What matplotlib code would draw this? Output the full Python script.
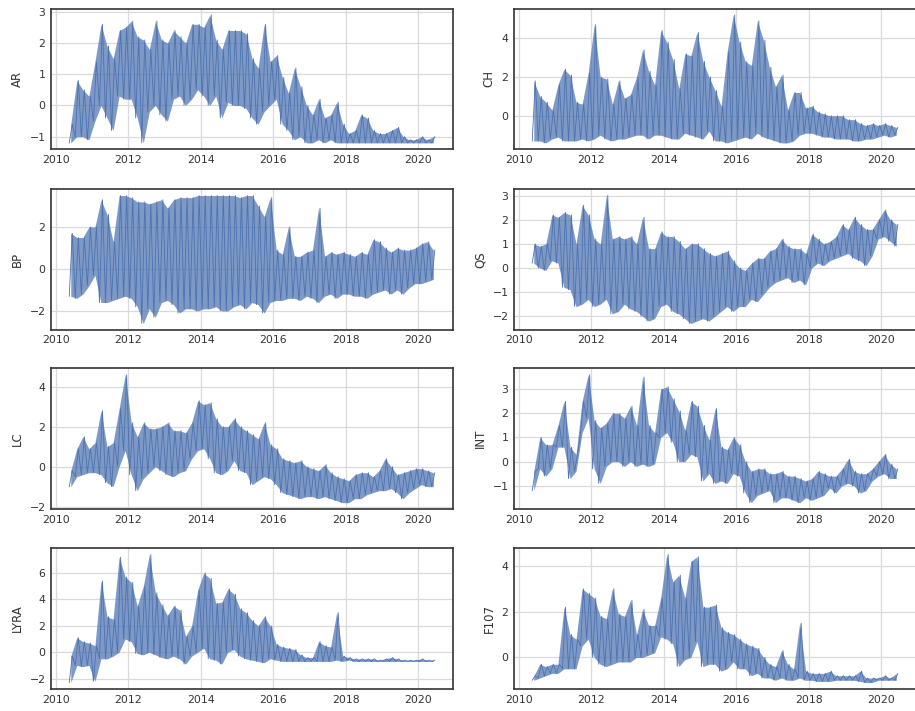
import numpy as np
import matplotlib
matplotlib.use('Agg')
import matplotlib.pyplot as plt
from matplotlib.ticker import MultipleLocator

# two-month bins from May 2010, one row = one year (6 bins), last value = mid 2020
start_year = 2010.37
bin_width = 1 / 6

ar_hi = [-0.6, 0.8, 0.5, 0.3, 1.4, 2.6,
         1.9, 1.5, 2.4, 2.5, 2.7, 2.2,
         2.1, 1.8, 2.7, 2.1, 2.0, 2.4,
         2.2, 2.0, 2.6, 2.6, 2.5, 2.9,
         2.1, 1.8, 2.4, 2.4, 2.4, 2.3,
         1.5, 1.2, 2.6, 1.4, 1.6, 0.9,
         0.4, 1.2, 0.6, 0.0, -0.3, 0.2,
         -0.4, -0.3, 0.1, -0.6, -0.9, -0.8,
         -0.3, -0.4, -0.8, -0.9, -0.9, -0.8,
         -0.7, -1.0, -1.1, -1.1, -1.0, -1.1,
         -1.0]
ar_lo = [-1.2, -1.0, -1.0, -1.1, -0.5, 0.0,
         -0.4, -0.8, 0.3, 0.2, 0.2, -0.4,
         -1.2, -0.2, 0.0, -0.3, -0.5, 0.2,
         0.3, 0.0, 0.2, 0.5, 0.3, 0.0,
         0.3, -0.4, 0.1, 0.0, 0.0, -0.1,
         -0.4, -0.6, -0.2, 0.0, 0.2, -0.6,
         -0.8, -1.1, -1.0, -1.2, -1.2, -1.1,
         -1.2, -1.1, -1.2, -1.2, -1.2, -1.2,
         -1.2, -1.2, -1.2, -1.2, -1.2, -1.2,
         -1.2, -1.2, -1.2, -1.2, -1.2, -1.2,
         -1.2]

ch_hi = [1.8, 1.0, 0.7, 0.3, 1.6, 2.4,
         2.1, 0.7, 0.6, 2.2, 4.7, 2.0,
         1.9, 0.6, 1.8, 0.9, 1.1, 2.0,
         3.4, 2.3, 1.6, 4.4, 3.8, 2.9,
         1.4, 3.2, 3.1, 4.3, 2.8, 2.0,
         1.3, 0.5, 3.3, 5.2, 3.8, 2.8,
         2.6, 4.9, 3.9, 2.5, 1.5, 2.1,
         0.3, 1.2, 1.2, 0.4, 0.5, 0.2,
         0.1, 0.0, 0.0, 0.0, -0.2, -0.2,
         -0.4, -0.5, -0.4, -0.5, -0.4, -0.5,
         -0.6]
ch_lo = [-1.3, -1.3, -1.4, -1.2, -1.1, -1.3,
         -1.3, -1.3, -1.2, -1.3, -1.2, -1.0,
         -1.2, -1.3, -1.2, -1.2, -1.1, -1.0,
         -1.0, -1.2, -1.0, -1.0, -1.1, -1.2,
         -1.2, -0.9, -1.0, -1.1, -1.2, -0.8,
         -1.3, -1.3, -1.4, -1.3, -1.2, -1.1,
         -1.2, -0.9, -1.1, -1.2, -1.3, -1.4,
         -1.4, -1.3, -1.0, -0.9, -0.9, -1.0,
         -1.1, -1.1, -1.2, -1.2, -1.2, -1.3,
         -1.3, -1.2, -1.2, -1.1, -1.0, -1.1,
         -1.0]

bp_hi = [1.7, 1.5, 1.5, 2.0, 2.0, 3.3,
         2.6, 1.3, 3.5, 3.5, 3.4, 3.2,
         3.2, 3.1, 3.2, 3.3, 2.9, 3.3,
         3.4, 3.4, 3.4, 3.5, 3.5, 3.5,
         3.5, 3.5, 3.5, 3.5, 3.4, 3.5,
         3.5, 3.0, 2.5, 3.4, 0.9, 0.7,
         2.0, 0.6, 0.6, 0.8, 0.9, 2.9,
         0.6, 0.8, 0.7, 0.8, 0.7, 0.6,
         0.8, 0.7, 1.4, 1.3, 1.0, 0.8,
         1.0, 0.9, 0.9, 1.0, 1.2, 1.3,
         0.9]
bp_lo = [-1.3, -1.4, -1.2, -0.8, -0.3, -1.6,
         -1.6, -1.5, -1.4, -1.3, -1.4, -1.8,
         -2.6, -1.9, -2.3, -1.6, -1.5, -1.7,
         -2.1, -1.9, -1.9, -2.0, -1.9, -1.9,
         -1.8, -2.0, -2.0, -1.8, -1.7, -1.9,
         -1.6, -1.7, -2.1, -1.6, -1.5, -1.5,
         -1.4, -1.4, -1.5, -1.3, -1.4, -1.6,
         -1.3, -1.2, -1.4, -1.2, -1.2, -1.3,
         -1.3, -1.4, -1.2, -1.1, -1.0, -1.2,
         -1.0, -1.2, -0.9, -0.7, -0.7, -0.6,
         -0.5]

qs_hi = [1.0, 0.9, 1.0, 2.2, 2.1, 2.3,
         2.2, 1.0, 2.6, 2.2, 1.2, 1.0,
         3.0, 1.2, 1.3, 1.2, 1.3, 1.0,
         2.1, 0.8, 0.8, 1.5, 1.3, 1.3,
         1.1, 0.8, 1.0, 1.0, 0.8, 0.6,
         0.5, 0.6, 0.7, 0.3, 0.0, -0.1,
         0.2, 0.4, 0.4, 0.7, 0.8, 1.2,
         0.9, 0.8, 0.8, 0.6, 1.4, 1.2,
         1.0, 1.1, 1.3, 1.8, 1.6, 2.1,
         1.8, 1.6, 1.6, 2.0, 2.4, 2.0,
         1.8]
qs_lo = [0.2, 0.0, -0.1, 0.3, 0.2, -0.8,
         -0.9, -1.6, -1.5, -1.3, -1.6, -1.5,
         -1.3, -1.9, -1.8, -1.5, -1.7, -1.8,
         -2.0, -2.2, -2.1, -1.6, -1.5, -1.8,
         -1.9, -2.1, -2.3, -2.2, -2.1, -2.2,
         -2.0, -1.8, -1.6, -1.8, -1.6, -1.6,
         -1.3, -1.4, -1.1, -0.8, -0.6, -0.5,
         -0.4, -0.6, -0.5, -0.7, 0.0, 0.2,
         0.1, 0.3, 0.4, 0.5, 0.6, 0.4,
         0.3, 0.1, 0.5, 1.2, 1.3, 1.1,
         0.9]

lc_hi = [-0.2, 0.9, 1.5, 0.9, 1.2, 2.8,
         1.0, 1.2, 2.9, 4.6, 2.2, 1.5,
         2.2, 1.9, 1.9, 2.0, 2.2, 1.8,
         1.8, 1.7, 2.2, 3.3, 3.1, 3.2,
         2.4, 2.0, 2.0, 2.4, 2.0, 1.8,
         1.6, 1.4, 2.2, 1.1, 0.9, 0.4,
         0.3, 0.2, 0.3, 0.0, -0.1, -0.2,
         0.1, -0.3, -0.5, -0.6, -0.7, -0.4,
         -0.3, -0.3, -0.5, -0.2, 0.4, 0.0,
         -0.4, -0.3, -0.2, -0.1, -0.1, -0.2,
         -0.3]
lc_lo = [-1.0, -0.5, -0.4, -0.3, -0.3, -0.4,
         -0.8, -1.0, 0.0, 0.8, -0.4, -1.2,
         -0.6, -0.3, 0.0, -0.2, -0.4, -0.5,
         -0.3, -0.2, 0.4, 0.8, 0.9, 0.4,
         -0.3, -0.4, -0.2, 0.3, -0.2, -0.3,
         -0.9, -0.7, -0.5, -0.6, -0.9, -1.3,
         -1.4, -1.5, -1.6, -1.5, -1.5, -1.6,
         -1.5, -1.6, -1.7, -1.8, -1.8, -1.6,
         -1.6, -1.4, -1.3, -1.2, -1.2, -1.1,
         -1.3, -1.6, -1.3, -1.1, -0.9, -1.0,
         -1.0]

int_hi = [-0.4, 1.0, 0.7, 0.7, 1.5, 2.5,
          0.6, 0.3, 2.5, 3.6, 1.7, 1.4,
          1.6, 2.0, 2.0, 1.8, 2.3, 1.5,
          3.5, 1.5, 1.2, 3.0, 3.1, 2.6,
          2.1, 1.3, 2.5, 2.3, 1.5, 0.9,
          2.2, 0.6, 0.5, 1.0, 0.7, 0.0,
          -0.4, -0.3, -0.3, -0.5, -0.5, -0.4,
          -0.6, -0.6, -0.7, -0.8, -0.7, -0.4,
          -0.5, -0.6, -0.6, -0.3, 0.1, -0.4,
          -0.5, -0.5, -0.3, 0.0, 0.3, -0.1,
          -0.3]
int_lo = [-1.2, -0.3, -0.6, -0.3, 0.6, 0.6,
          -0.7, -0.4, 1.2, 1.8, -0.3, -0.9,
          -0.2, 0.0, 0.0, -0.2, 0.0, -0.2,
          -0.1, -0.2, -0.1, 1.0, 1.2, 0.8,
          0.0, 0.0, 0.3, 0.2, -0.8, -0.5,
          -0.9, -0.8, -0.9, -0.5, -0.6, -1.3,
          -1.7, -1.4, -1.3, -1.2, -1.7, -1.5,
          -1.5, -1.6, -1.7, -1.5, -1.6, -1.5,
          -1.4, -1.1, -1.3, -1.0, -0.9, -1.0,
          -1.3, -1.2, -0.8, -0.6, -0.5, -0.7,
          -0.7]

lyra_hi = [-0.3, 1.1, 0.8, 0.7, 0.5, 5.4,
           2.7, 2.5, 7.2, 5.7, 5.3, 3.5,
           5.0, 7.4, 4.5, 3.6, 2.8, 3.5,
           3.2, 1.2, 2.0, 4.7, 6.0, 5.6,
           3.7, 3.8, 4.8, 4.4, 3.3, 3.0,
           2.4, 2.0, 2.7, 2.0, 0.6, 0.4,
           0.3, 0.2, -0.2, -0.4, -0.4, 0.8,
           0.5, 0.4, 3.0, -0.3, -0.4, -0.5,
           -0.5, -0.5, -0.5, -0.6, -0.5, -0.4,
           -0.5, -0.6, -0.6, -0.6, -0.5, -0.6,
           -0.6]
lyra_lo = [-2.3, -1.0, -1.1, -1.0, -2.2, -0.5,
           -0.5, -0.3, 0.0, 1.0, 0.8, -0.1,
           -0.2, 0.0, -0.2, -0.4, -0.5, -0.3,
           -0.5, -0.9, -0.3, 0.0, 0.3, -0.5,
           -0.6, -0.9, 0.0, 0.2, -0.3, -0.5,
           -0.6, -0.7, -0.8, -0.5, -0.6, -0.7,
           -0.7, -0.7, -0.7, -0.7, -0.7, -0.7,
           -0.7, -0.7, -0.6, -0.7, -0.6, -0.7,
           -0.7, -0.7, -0.7, -0.7, -0.7, -0.7,
           -0.7, -0.7, -0.7, -0.7, -0.7, -0.7,
           -0.7]

f107_hi = [-0.8, -0.3, -0.4, -0.3, -0.3, 2.2,
           1.0, 0.8, 3.0, 2.8, 2.6, 1.8,
           1.7, 3.0, 1.9, 1.8, 2.5, 1.0,
           2.1, 1.4, 1.4, 2.6, 4.5, 3.3,
           3.6, 2.6, 4.2, 4.4, 2.2, 2.2,
           2.3, 1.3, 1.1, 1.0, 0.8, 0.6,
           0.5, 0.4, 0.0, -0.3, -0.4, 0.3,
           -0.3, -0.5, 1.5, -0.6, -0.7, -0.7,
           -0.7, -0.6, -0.8, -0.8, -0.8, -0.8,
           -0.6, -0.9, -0.9, -0.9, -0.8, -0.9,
           -0.7]
f107_lo = [-1.0, -0.9, -0.8, -0.7, -0.7, -0.5,
           -0.5, -0.5, 0.5, 0.8, 0.0, -0.3,
           -0.4, -0.3, -0.2, -0.2, -0.2, 0.0,
           0.0, 0.1, 0.2, 0.9, 0.8, 0.6,
           -0.4, -0.1, 0.0, 0.7, -0.4, -0.3,
           -0.3, -0.6, -0.5, -0.2, -0.5, -0.5,
           -0.8, -0.7, -0.9, -0.9, -1.0, -0.9,
           -1.0, -1.0, -0.9, -1.0, -1.0, -1.05,
           -1.05, -1.05, -1.0, -1.0, -1.0, -1.0,
           -1.05, -1.1, -1.1, -1.0, -1.0, -1.0,
           -1.0]

# name, hi, lo, y tick step, column, row
panels = [
    ('AR', ar_hi, ar_lo, 1, 0, 0),
    ('CH', ch_hi, ch_lo, 2, 1, 0),
    ('BP', bp_hi, bp_lo, 2, 0, 1),
    ('QS', qs_hi, qs_lo, 1, 1, 1),
    ('LC', lc_hi, lc_lo, 2, 0, 2),
    ('INT', int_hi, int_lo, 1, 1, 2),
    ('LYRA', lyra_hi, lyra_lo, 2, 0, 3),
    ('F107', f107_hi, f107_lo, 2, 1, 3),
]

color = '#4c72b0'
text_color = '#333333'

fig = plt.figure(figsize=(9.15, 7.11), dpi=100)
lefts = [0.0557, 0.5617]
bottoms = [0.790, 0.536, 0.284, 0.031]
width = 0.4395
height = 0.198

for name, hi, lo, ystep, col, row in panels:
    ax = fig.add_axes([lefts[col], bottoms[row], width, height])
    hi = np.array(hi)
    lo = np.array(lo)
    t = start_year + np.arange(len(hi)) * bin_width
    # min of each bin first, then max half a bin later
    x = np.empty(2 * len(t))
    y = np.empty(2 * len(t))
    x[0::2] = t
    x[1::2] = t + bin_width / 2
    y[0::2] = lo
    y[1::2] = hi
    ax.fill_between(t + bin_width / 4, lo, hi, color=color, alpha=0.72, lw=0)
    ax.plot(x, y, color=color, lw=0.6)

    ax.set_ylabel(name, fontsize=8.5, color=text_color)
    ax.set_xticks(range(2010, 2021, 2))
    ax.yaxis.set_major_locator(MultipleLocator(ystep))
    ax.tick_params(length=0, labelsize=7.8, labelcolor=text_color, pad=4)
    ax.grid(True, color='#dadada', lw=0.9)
    ax.set_axisbelow(True)
    for s in ax.spines.values():
        s.set_color('#333333')
        s.set_linewidth(1.2)

fig.savefig('out.png', dpi=100)
